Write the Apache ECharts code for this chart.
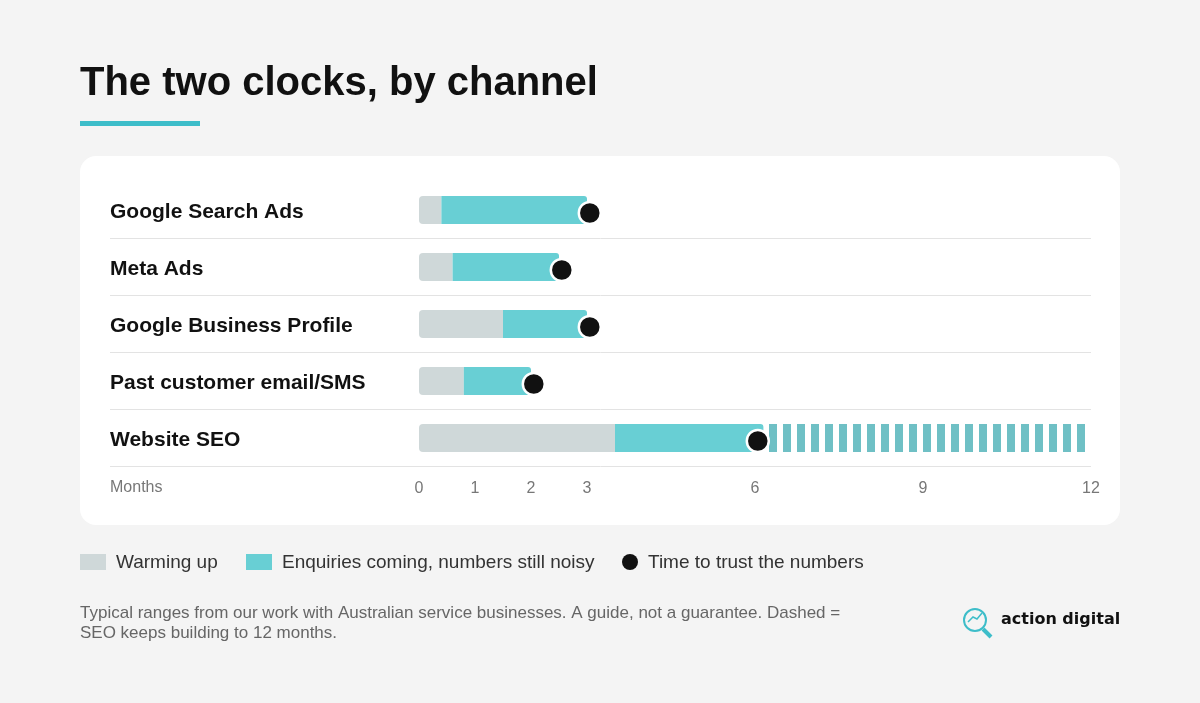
<!DOCTYPE html>
<html>
<head>
<meta charset="utf-8">
<title>The two clocks, by channel</title>
<script src="https://cdn.jsdelivr.net/npm/echarts@6/dist/echarts.min.js"></script>
</head>
<body style="margin:0;background:#f4f4f4;">
<div id="chart" style="width:1200px;height:703px;"></div>
<script>
var channels = ['Google Search Ads', 'Meta Ads', 'Google Business Profile', 'Past customer email/SMS', 'Website SEO'];
var warmingEnd = [0.4, 0.6, 1.5, 0.8, 3.5];
var enquiryEnd = [3.0, 2.5, 3.0, 2.0, 6.15];
var trustAt = [3.05, 2.55, 3.05, 2.05, 6.05];
var keepsBuilding = [[6.25, 12, 4]]; // [from, to, channel index]
var shownTicks = [0, 1, 2, 3, 6, 9, 12];

var chart = echarts.init(document.getElementById('chart'));
var teal = '#68cfd4';
var grey = '#cfd8d9';
var font = '"Liberation Sans", Arial, sans-serif';

var separators = [];
for (var i = 0; i < channels.length; i++) {
  var y = 238.5 + i * 57;
  separators.push({type: 'line', shape: {x1: 110, y1: y, x2: 1091, y2: y},
    style: {stroke: '#e3e3e3', lineWidth: 1}, z: 1});
}

chart.setOption({
  backgroundColor: '#f4f4f4',
  textStyle: {fontFamily: font},
  graphic: [
    {type: 'rect', shape: {x: 80, y: 156, width: 1040, height: 369, r: 16}, style: {fill: '#fff'}, z: 0},
    {type: 'text', left: 80, top: 64, style: {text: 'The two clocks, by channel', fontSize: 40, fontWeight: 'bold', fill: '#111', fontFamily: font}},
    {type: 'rect', shape: {x: 80, y: 121, width: 120, height: 5}, style: {fill: '#3dbdc9'}},
    {type: 'text', left: 110, top: 480, style: {text: 'Months', fontSize: 16, fill: '#777', fontFamily: font}, z: 5},
    // legend
    {type: 'rect', shape: {x: 80, y: 554, width: 26, height: 16}, style: {fill: grey}},
    {type: 'text', left: 116, top: 553, style: {text: 'Warming up', fontSize: 19, fill: '#333', fontFamily: font}},
    {type: 'rect', shape: {x: 246, y: 554, width: 26, height: 16}, style: {fill: teal}},
    {type: 'text', left: 282, top: 553, style: {text: 'Enquiries coming, numbers still noisy', fontSize: 19, fill: '#333', fontFamily: font}},
    {type: 'circle', shape: {cx: 630, cy: 562, r: 8}, style: {fill: '#111'}},
    {type: 'text', left: 648, top: 553, style: {text: 'Time to trust the numbers', fontSize: 19, fill: '#333', fontFamily: font}},
    {type: 'text', left: 80, top: 603, style: {text: 'Typical ranges from our work with Australian service businesses. A guide, not a guarantee. Dashed =\nSEO keeps building to 12 months.', fontSize: 17, lineHeight: 20, fill: '#666', fontFamily: font}},
    {type: 'circle', shape: {cx: 975, cy: 620, r: 11}, style: {fill: 'none', stroke: '#3dbdc9', lineWidth: 2}},
    {type: 'line', shape: {x1: 983, y1: 629, x2: 991, y2: 637}, style: {stroke: '#3dbdc9', lineWidth: 4}},
    {type: 'polyline', shape: {points: [[968, 622], [973, 617], [977, 619], [982, 613]]}, style: {stroke: '#3dbdc9', fill: 'none', lineWidth: 1.5}},
    {type: 'text', left: 1001, top: 612, style: {text: 'action digital', fontSize: 16, fontWeight: 'bold', fill: '#111', fontFamily: '"DejaVu Sans", sans-serif'}}
  ].concat(separators),
  grid: {left: 419, right: 109, top: 181.5, bottom: 236.5},
  xAxis: {
    type: 'value', min: 0, max: 12, interval: 1,
    axisLine: {show: false}, axisTick: {show: false}, splitLine: {show: false},
    axisLabel: {margin: 14, fontSize: 16, color: '#777',
      formatter: function (v) { return shownTicks.indexOf(v) >= 0 ? String(v) : ''; }}
  },
  yAxis: {
    type: 'category', data: channels, inverse: true,
    axisLine: {show: false}, axisTick: {show: false},
    axisLabel: {align: 'left', margin: 309, fontSize: 21, fontWeight: 'bold', color: '#111',
      rich: {}, formatter: '{a|{value}}'}
  },
  series: [
    {name: 'Warming up', type: 'bar', stack: 'c', barWidth: 28,
      itemStyle: {color: grey, borderRadius: [4, 0, 0, 4]}, data: warmingEnd, z: 2},
    {name: 'Enquiries coming, numbers still noisy', type: 'bar', stack: 'c', barWidth: 28,
      itemStyle: {color: teal, borderRadius: [0, 3, 3, 0]},
      data: enquiryEnd.map(function (e, i) { return +(e - warmingEnd[i]).toFixed(2); }), z: 2},
    {type: 'custom', data: keepsBuilding, z: 2, silent: true,
      renderItem: function (params, api) {
        var a = api.coord([api.value(0), api.value(2)]);
        var b = api.coord([api.value(1), api.value(2)]);
        var kids = [];
        for (var x = a[0]; x + 8 <= b[0] + 0.5; x += 14) {
          kids.push({type: 'rect', shape: {x: x, y: a[1] - 14, width: 8, height: 28}, style: {fill: '#6fc0c5'}});
        }
        return {type: 'group', children: kids};
      }},
    {name: 'Time to trust the numbers', type: 'scatter', symbolSize: 22, symbolOffset: [0, 3],
      itemStyle: {color: '#111', opacity: 1, borderColor: '#fff', borderWidth: 2.5}, z: 4,
      data: trustAt.map(function (v, i) { return [v, i]; })}
  ]
});
chart.setOption({yAxis: {axisLabel: {rich: {a: {fontSize: 21, fontWeight: 'bold', color: '#111', fontFamily: font, padding: [4, 0, 0, 0]}}}}});
</script>
</body>
</html>
